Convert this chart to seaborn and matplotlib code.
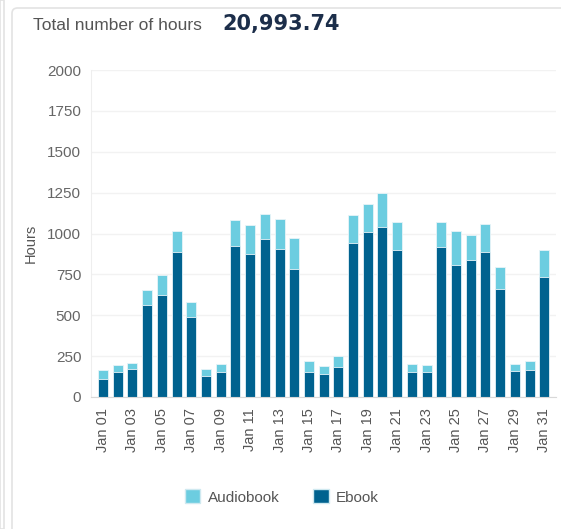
import numpy as np
import pandas as pd
import seaborn as sns
import matplotlib.pyplot as plt
from matplotlib.patches import FancyBboxPatch, Patch

days = [f"Jan {d:02d}" for d in range(1, 32)]
ebook = [113, 153, 170, 564, 623, 887, 490, 131, 155, 924, 873, 965, 905, 785, 155, 141,
         182, 940, 1008, 1042, 897, 153, 155, 918, 809, 838, 889, 662, 162, 164, 736]
audiobook = [51, 41, 38, 90, 125, 129, 90, 43, 49, 159, 179, 153, 182, 186, 64, 49,
             69, 174, 173, 205, 174, 51, 39, 151, 207, 151, 170, 135, 42, 55, 163]
total_hours = "20,993.74"

ebook_color = "#00628f"
audio_color = "#6ccde0"

df = pd.DataFrame({"day": days, "Ebook": ebook, "Audiobook": audiobook})
df["Total"] = df["Ebook"] + df["Audiobook"]

sns.set_style("white")
plt.rcParams['font.family'] = ['Liberation Sans', 'DejaVu Sans']

fig = plt.figure(figsize=(5.61, 5.29), dpi=100)

# card outlines
fig.patches.append(FancyBboxPatch((12 / 561, -0.05), 1.0, 1 - 8 / 529 + 0.05,
                                  boxstyle="round,pad=0,rounding_size=0.01",
                                  transform=fig.transFigure, fill=False,
                                  edgecolor="#e3e3e3", linewidth=1.2))
fig.patches.append(plt.Rectangle((0, 0), 4 / 561, 1, transform=fig.transFigure,
                                 fill=False, edgecolor="#e3e3e3", linewidth=1.2))

ax = fig.add_axes([91 / 561, 1 - 397 / 529, (556 - 91) / 561, (397 - 70) / 529])

sns.barplot(data=df, x="day", y="Total", color=audio_color, width=0.68,
            edgecolor="#e8f4f8", linewidth=0.6, saturation=1, ax=ax)
sns.barplot(data=df, x="day", y="Ebook", color=ebook_color, width=0.68,
            edgecolor="#e8f4f8", linewidth=0.6, saturation=1, ax=ax)

ax.set_ylim(0, 2000)
ax.set_xlim(-0.82, 30.8)
ax.set_yticks(np.arange(0, 2001, 250))
ax.set_yticklabels([str(v) for v in range(0, 2001, 250)], color="#666666", fontsize=11)
ax.yaxis.grid(True, color="#f2f2f2", linewidth=1)
ax.set_axisbelow(True)

ax.set_xticks(range(0, 31, 2))
ax.set_xticklabels(days[::2], rotation=90, color="#555555", fontsize=10.5)
ax.set_xticks(np.arange(-0.5, 31, 1), minor=True)
ax.tick_params(axis="x", which="minor", length=5, color="#dddddd", width=1)
ax.tick_params(axis="x", which="major", length=0, pad=8)
ax.tick_params(axis="y", length=5, color="#e6e6e6", width=1, pad=2)

for s in ["top", "right"]:
    ax.spines[s].set_visible(False)
ax.spines["left"].set_color("#eeeeee")
ax.spines["bottom"].set_color("#d8d8d8")

ax.set_xlabel("")
ax.set_ylabel("Hours", color="#555555", fontsize=10.5, labelpad=7)
ax.yaxis.label.set_y(0.47)

fig.text(33 / 561, 1 - 25 / 529, "Total number of hours", color="#555555",
         fontsize=12.5, va="center")
fig.text(222 / 561, 1 - 24 / 529, total_hours, color="#1c2e4a",
         fontsize=15, fontweight="bold", va="center", family="DejaVu Sans")

handles = [Patch(facecolor=audio_color, edgecolor="#cfe9f0"),
           Patch(facecolor=ebook_color, edgecolor="#cfe9f0")]
fig.legend(handles, ["Audiobook", "Ebook"], loc="center",
           bbox_to_anchor=(282 / 561, 1 - 497 / 529), ncol=2, frameon=False,
           fontsize=11, labelcolor="#555555", handlelength=1.0, handleheight=1.0,
           columnspacing=2.2, handletextpad=0.5)

fig.savefig("out.png", dpi=100)
